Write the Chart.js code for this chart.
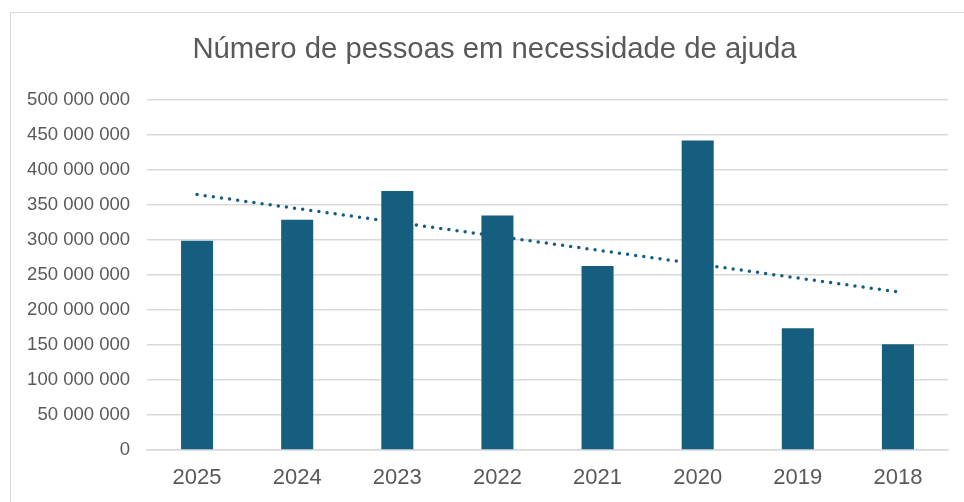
<!DOCTYPE html>
<html>
<head>
<meta charset="utf-8">
<script src="https://cdn.jsdelivr.net/npm/chart.js@4"></script>
<style>
  html, body { margin: 0; padding: 0; background: #ffffff; }
  #wrap { position: relative; width: 964px; height: 502px; overflow: hidden; }
  #frame { position: absolute; left: 10px; top: 12px; width: 1000px; height: 600px; border: 1px solid #d9d9d9; pointer-events: none; }
  canvas { position: absolute; left: 0; top: 0; }
</style>
</head>
<body>
<div id="wrap">
  <div id="frame"></div>
  <canvas id="c" width="964" height="502"></canvas>
</div>
<script>
const titleText = 'Número de pessoas em necessidade de ajuda';
const categories = ['2025', '2024', '2023', '2022', '2021', '2020', '2019', '2018'];
const peopleInNeed = [299000000, 329000000, 370000000, 335000000, 263000000, 442000000, 174000000, 151000000];
const yTicksMax = 500000000;
const yTicksStep = 50000000;

// Linear trendline (least squares) derived from the series
function linearTrend(values) {
  const n = values.length;
  let sx = 0, sy = 0, sxy = 0, sxx = 0;
  values.forEach((v, i) => { const x = i + 1; sx += x; sy += v; sxy += x * v; sxx += x * x; });
  const slope = (n * sxy - sx * sy) / (n * sxx - sx * sx);
  const intercept = (sy - slope * sx) / n;
  return values.map((_, i) => intercept + slope * (i + 1));
}
const trend = linearTrend(peopleInNeed);

function fmt(v) {
  return String(Math.round(v)).replace(/\B(?=(\d{3})+(?!\d))/g, ' ');
}

const barColor = '#165E80';
const textColor = '#595959';
const gridColor = '#d9d9d9';
const fontFamily = '"Liberation Sans", Arial, sans-serif';

const titlePlugin = {
  id: 'customTitle',
  afterDraw(chart) {
    const ctx = chart.ctx;
    ctx.save();
    ctx.fillStyle = textColor;
    ctx.font = '29.3px ' + fontFamily;
    ctx.textAlign = 'center';
    ctx.textBaseline = 'middle';
    ctx.fillText(titleText, 494.5, 50);
    ctx.restore();
  }
};

new Chart(document.getElementById('c'), {
  data: {
    labels: categories,
    datasets: [
      {
        type: 'line',
        label: 'Linear',
        data: trend,
        borderColor: barColor,
        borderWidth: 3.5,
        borderDash: [0, 8.2],
        borderCapStyle: 'round',
        pointRadius: 0,
        fill: false,
        tension: 0,
        order: 0
      },
      {
        type: 'bar',
        label: 'Pessoas',
        data: peopleInNeed,
        backgroundColor: barColor,
        borderWidth: 0,
        barPercentage: 0.32,
        categoryPercentage: 1.0,
        order: 1
      }
    ]
  },
  plugins: [titlePlugin],
  options: {
    responsive: false,
    animation: false,
    layout: { padding: { left: 0, right: 16, top: 100, bottom: 12 } },
    plugins: {
      legend: { display: false },
      tooltip: { enabled: false },
      title: { display: false }
    },
    scales: {
      x: {
        offset: true,
        afterFit: (scale) => { scale.height = 40; },
        grid: { display: false, drawTicks: false },
        border: { display: true, color: gridColor, width: 1.5 },
        ticks: {
          color: textColor,
          padding: 15,
          font: { family: fontFamily, size: 22 }
        }
      },
      y: {
        min: 0,
        max: yTicksMax,
        afterFit: (scale) => { scale.width = 147; },
        grid: { color: gridColor, lineWidth: 1.5, drawTicks: false },
        border: { display: false },
        ticks: {
          stepSize: yTicksStep,
          color: textColor,
          padding: 17,
          font: { family: fontFamily, size: 18.5 },
          callback: (v) => fmt(v)
        }
      }
    }
  }
});
</script>
</body>
</html>
